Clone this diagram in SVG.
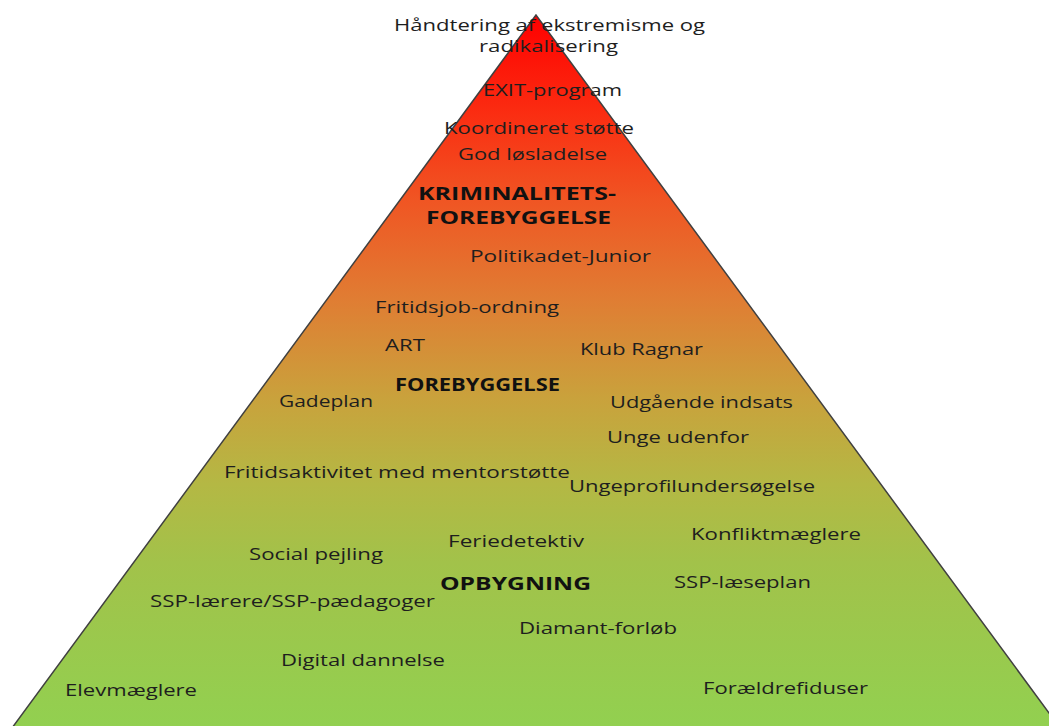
<svg xmlns="http://www.w3.org/2000/svg" width="1049" height="726" viewBox="0 0 1049 726">
<style>
text{font-family:"Open Sans","Liberation Sans",sans-serif;font-size:16px;fill:#1e1e1e}
.b{font-weight:bold;font-size:17px;fill:#111}
</style>
<defs>
<linearGradient id="g" gradientUnits="userSpaceOnUse" x1="0" y1="15" x2="0" y2="726">
<stop offset="0" stop-color="#ff0000"/>
<stop offset="0.13" stop-color="#fb2a10"/>
<stop offset="0.26" stop-color="#f05523"/>
<stop offset="0.4" stop-color="#e07d33"/>
<stop offset="0.54" stop-color="#c9a23c"/>
<stop offset="0.66" stop-color="#b4b844"/>
<stop offset="0.77" stop-color="#a2c24a"/>
<stop offset="1" stop-color="#92d050"/>
</linearGradient>
</defs>
<rect width="1049" height="726" fill="#fff"/>
<g id="pyramid">
<polygon points="536,15 12,728 1060,728" fill="url(#g)" stroke="#404040" stroke-width="1.5"/>
</g>
<g id="labels">
<text x="394" y="31" textLength="311" lengthAdjust="spacingAndGlyphs">Håndtering af ekstremisme og</text>
<text x="479" y="52" textLength="139" lengthAdjust="spacingAndGlyphs">radikalisering</text>
<text x="483" y="96" textLength="139" lengthAdjust="spacingAndGlyphs">EXIT-program</text>
<text x="444" y="134" textLength="190" lengthAdjust="spacingAndGlyphs">Koordineret støtte</text>
<text x="458" y="160" textLength="149" lengthAdjust="spacingAndGlyphs">God løsladelse</text>
<text class="b" x="418" y="200" textLength="198" lengthAdjust="spacingAndGlyphs">KRIMINALITETS-</text>
<text class="b" x="426" y="224" textLength="185" lengthAdjust="spacingAndGlyphs">FOREBYGGELSE</text>
<text x="470" y="262" textLength="181" lengthAdjust="spacingAndGlyphs">Politikadet-Junior</text>
<text x="375" y="313" textLength="184" lengthAdjust="spacingAndGlyphs">Fritidsjob-ordning</text>
<text x="385" y="351" textLength="40" lengthAdjust="spacingAndGlyphs">ART</text>
<text x="580" y="355" textLength="123" lengthAdjust="spacingAndGlyphs">Klub Ragnar</text>
<text class="b" x="395" y="391" textLength="165" lengthAdjust="spacingAndGlyphs">FOREBYGGELSE</text>
<text x="279" y="407" textLength="94" lengthAdjust="spacingAndGlyphs">Gadeplan</text>
<text x="610" y="408" textLength="183" lengthAdjust="spacingAndGlyphs">Udgående indsats</text>
<text x="607" y="443" textLength="142" lengthAdjust="spacingAndGlyphs">Unge udenfor</text>
<text x="224" y="478" textLength="346" lengthAdjust="spacingAndGlyphs">Fritidsaktivitet med mentorstøtte</text>
<text x="569" y="492" textLength="246" lengthAdjust="spacingAndGlyphs">Ungeprofilundersøgelse</text>
<text x="448" y="547" textLength="136" lengthAdjust="spacingAndGlyphs">Feriedetektiv</text>
<text x="691" y="540" textLength="170" lengthAdjust="spacingAndGlyphs">Konfliktmæglere</text>
<text x="249" y="560" textLength="134" lengthAdjust="spacingAndGlyphs">Social pejling</text>
<text class="b" x="440" y="590" textLength="151" lengthAdjust="spacingAndGlyphs">OPBYGNING</text>
<text x="674" y="588" textLength="137" lengthAdjust="spacingAndGlyphs">SSP-læseplan</text>
<text x="150" y="607" textLength="285" lengthAdjust="spacingAndGlyphs">SSP-lærere/SSP-pædagoger</text>
<text x="519" y="634" textLength="158" lengthAdjust="spacingAndGlyphs">Diamant-forløb</text>
<text x="281" y="666" textLength="164" lengthAdjust="spacingAndGlyphs">Digital dannelse</text>
<text x="65" y="696" textLength="132" lengthAdjust="spacingAndGlyphs">Elevmæglere</text>
<text x="703" y="694" textLength="165" lengthAdjust="spacingAndGlyphs">Forældrefiduser</text>
</g>
</svg>
